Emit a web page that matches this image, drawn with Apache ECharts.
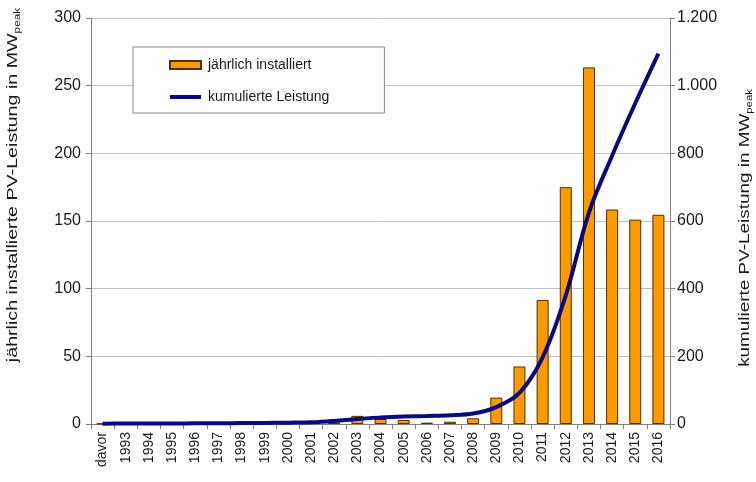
<!DOCTYPE html>
<html>
<head>
<meta charset="utf-8">
<script src="https://cdn.jsdelivr.net/npm/echarts@6/dist/echarts.min.js"></script>
<style>html,body{margin:0;padding:0;background:#fff;}#c{width:756px;height:482px;}</style>
</head>
<body>
<div id="c"></div>
<script>
const categories = ['davor','1993','1994','1995','1996','1997','1998','1999','2000','2001','2002','2003','2004','2005','2006','2007','2008','2009','2010','2011','2012','2013','2014','2015','2016'];
const annualValues = [0.3,0.1,0.1,0.2,0.2,0.3,0.3,0.4,0.5,1,3.5,6,3.7,3,1,1.7,4.2,19.5,42.5,91.6,175,263.5,158.5,151,154.6];
const cumulativeValues = [1,1.2,1.4,1.6,2,2.3,2.6,3,4,5,9,15,19,22,24,26,31,50,92,197,380,625,793,948,1095];
const leftTicks = [0,50,100,150,200,250,300];
const rightTicks = [0,200,400,600,800,1000,1200];
const seriesNames = ['jährlich installiert','kumulierte Leistung'];
const leftTitle = 'jährlich installierte PV-Leistung in MW';
const rightTitle = 'kumulierte PV-Leistung in MW';
const subText = 'peak';

const FONT = '"Liberation Sans", Arial, sans-serif';
const TXT = '#1a1a1a';
const NAVY = '#0a0a80';
function de(v){ return String(v).replace(/\B(?=(\d{3})+(?!\d))/g,'.'); }

const chart = echarts.init(document.getElementById('c'), null, {renderer:'canvas'});
chart.setOption({
  animation:false,
  backgroundColor:'#fff',
  textStyle:{fontFamily:FONT,color:TXT},
  grid:{left:91,right:86,top:18,bottom:58,containLabel:false},
  legend:{
    orient:'vertical', left:133, top:47,
    padding:[11,55,9,36],
    itemWidth:31, itemHeight:8, itemGap:18,
    borderColor:'#888', borderWidth:1, borderRadius:0,
    backgroundColor:'#fff',
    textStyle:{fontFamily:FONT,fontSize:14,color:TXT,padding:[0,0,0,2]},
    data:[
      {name:seriesNames[0],icon:'rect'},
      {name:seriesNames[1],icon:'path://M0,0H31V4H0Z',itemStyle:{color:NAVY,borderWidth:0}}
    ]
  },
  xAxis:{
    type:'category', data:categories, boundaryGap:true,
    axisLine:{lineStyle:{color:'#808080',width:1}},
    axisTick:{show:true,interval:0,length:5,lineStyle:{color:'#808080'}},
    axisLabel:{interval:0,rotate:90,fontFamily:FONT,fontSize:14,color:TXT,margin:8}
  },
  yAxis:[{
    type:'value', min:leftTicks[0], max:leftTicks[leftTicks.length-1], interval:50,
    axisLine:{show:true,lineStyle:{color:'#808080'}},
    axisTick:{show:true,length:5,lineStyle:{color:'#808080'}},
    axisLabel:{fontFamily:FONT,fontSize:16,color:TXT,margin:10},
    splitLine:{lineStyle:{color:'#c0c0c0',width:1}}
  },{
    type:'value', min:rightTicks[0], max:rightTicks[rightTicks.length-1], interval:200,
    axisLine:{show:true,lineStyle:{color:'#808080'}},
    axisTick:{show:true,length:5,lineStyle:{color:'#808080'}},
    axisLabel:{fontFamily:FONT,fontSize:16,color:TXT,margin:7,formatter:de},
    splitLine:{show:false}
  }],
  graphic:[{
    type:'text', x:13, y:185, rotation:Math.PI/2, scaleX:1.31,
    style:{
      text:leftTitle+'{s|'+subText+'}', fontFamily:FONT, fontSize:15, fill:TXT,
      align:'center', verticalAlign:'middle',
      rich:{s:{fontSize:9,fontFamily:FONT,fill:TXT,padding:[9,0,0,0]}}
    }
  },{
    type:'text', x:745, y:228, rotation:Math.PI/2, scaleX:1.26,
    style:{
      text:rightTitle+'{s|'+subText+'}', fontFamily:FONT, fontSize:15, fill:TXT,
      align:'center', verticalAlign:'middle',
      rich:{s:{fontSize:9,fontFamily:FONT,fill:TXT,padding:[9,0,0,0]}}
    }
  }],
  series:[{
    name:seriesNames[0], type:'bar', yAxisIndex:0, data:annualValues, barWidth:12,
    itemStyle:{color:'#ff9900',borderColor:'#4a3200',borderWidth:1}
  },{
    name:seriesNames[1], type:'line', yAxisIndex:1, data:cumulativeValues,
    smooth:0.35, symbol:'none', showSymbol:false,
    lineStyle:{color:NAVY,width:4},
    itemStyle:{color:NAVY}
  }]
});
</script>
</body>
</html>
